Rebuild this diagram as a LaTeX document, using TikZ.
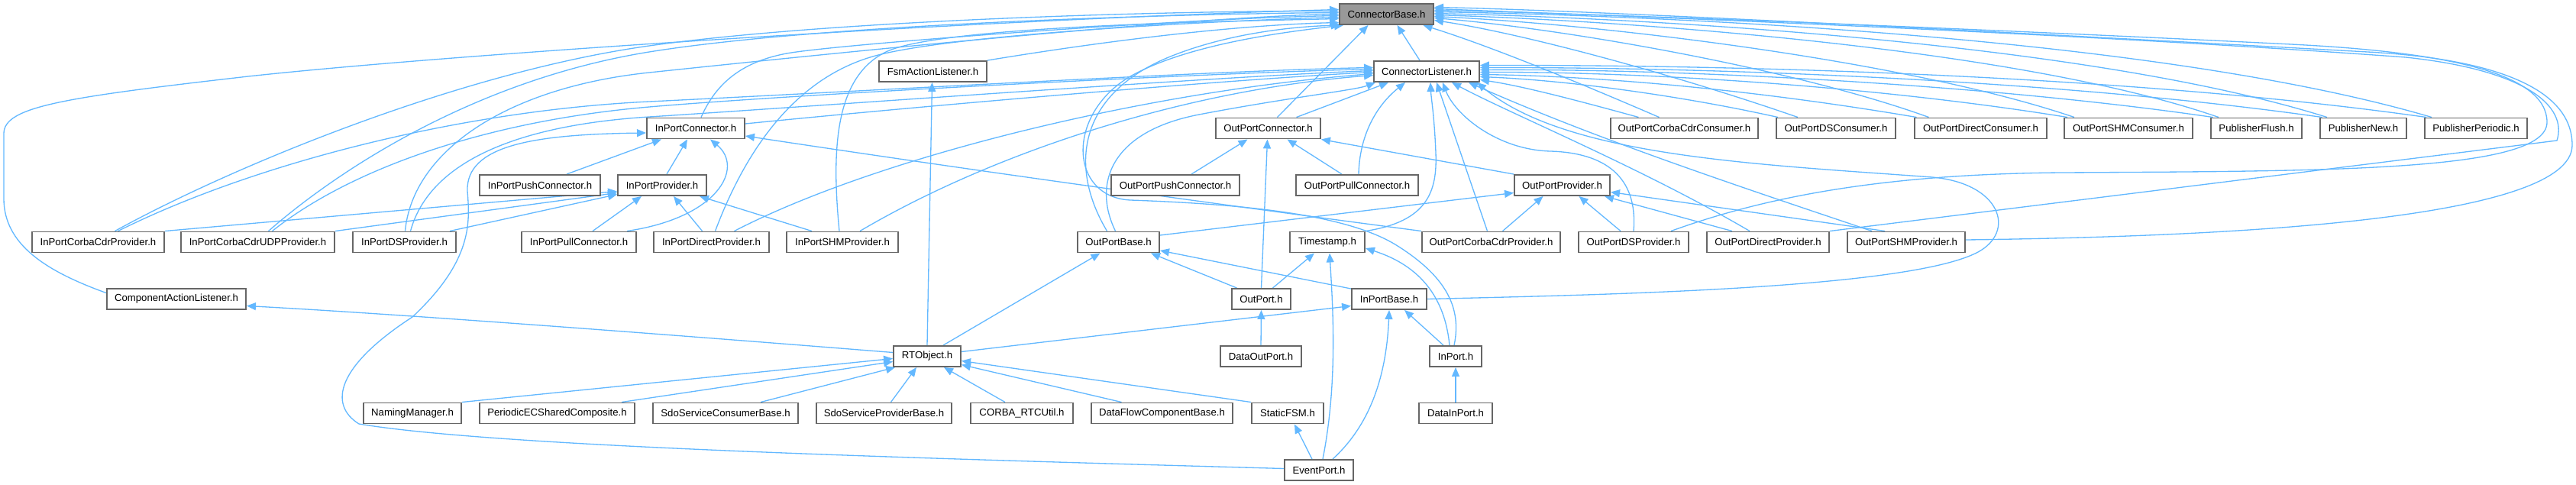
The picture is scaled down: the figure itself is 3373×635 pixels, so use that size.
\documentclass[tikz,border=0pt]{standalone}
\usepackage{fontspec}
\setmainfont{Liberation Sans}
\usetikzlibrary{arrows.meta,calc}
\definecolor{boxgray}{HTML}{666666}
\definecolor{rootgray}{HTML}{999999}
\definecolor{edgeblue}{HTML}{63B8FF}
\pgfdeclarelayer{edgelayer}
\pgfsetlayers{edgelayer,main}
\newcommand\nd[6][nbox]{\pgfmathsetlengthmacro\ndw{#5*0.02cm}\node[#1, minimum width=\ndw] (#2) at (#3,#4) {#6};}
\tikzset{
  nbox/.style={draw=boxgray,fill=white,line width=1.1pt,minimum height=0.54cm,inner sep=0pt,font=\fontsize{7.5pt}{9pt}\selectfont},
  rootbox/.style={nbox,fill=rootgray},
  dep/.style={draw=edgeblue,line width=0.75pt,-{Triangle[length=0.24cm,width=0.2cm]}}
}
\begin{document}
\begin{tikzpicture}[x=0.02cm,y=-0.02cm]
\useasboundingbox (0,0) rectangle (3373,635);
% row 0
\nd[rootbox]{cb}{1815.5}{18.5}{123}{ConnectorBase.h}
% row 1
\nd{fal}{1221.5}{93.5}{141}{FsmActionListener.h}
\nd{cl}{1868}{93.5}{138}{ConnectorListener.h}
% row 2
\nd{ipc}{911}{168}{128}{InPortConnector.h}
\nd{opc}{1660.5}{168}{137}{OutPortConnector.h}
\nd{occ}{2205.5}{168}{193}{OutPortCorbaCdrConsumer.h}
\nd{odsc}{2404}{168}{156}{OutPortDSConsumer.h}
\nd{odc}{2593.5}{168}{173}{OutPortDirectConsumer.h}
\nd{oshmc}{2787}{168}{168}{OutPortSHMConsumer.h}
\nd{pf}{2954.5}{168}{119}{PublisherFlush.h}
\nd{pn}{3094.5}{168}{113}{PublisherNew.h}
\nd{pp}{3242}{168}{134}{PublisherPeriodic.h}
% row 3
\nd{ippush}{707}{242.5}{158}{InPortPushConnector.h}
\nd{ipp}{867}{242.5}{116}{InPortProvider.h}
\nd{oppush}{1539}{242.5}{168}{OutPortPushConnector.h}
\nd{oppull}{1777}{242.5}{160}{OutPortPullConnector.h}
\nd{opp}{2045.5}{242.5}{125}{OutPortProvider.h}
% row 4
\nd{ipccp}{128.5}{317}{173}{InPortCorbaCdrProvider.h}
\nd{ipudp}{337.5}{317}{201}{InPortCorbaCdrUDPProvider.h}
\nd{ipds}{529.5}{317}{135}{InPortDSProvider.h}
\nd{ippull}{758}{317}{150}{InPortPullConnector.h}
\nd{ipdir}{931.5}{317}{151}{InPortDirectProvider.h}
\nd{ipshm}{1103}{317}{146}{InPortSHMProvider.h}
\nd{opb}{1464.5}{317}{107}{OutPortBase.h}
\nd{ts}{1738}{317}{98}{Timestamp.h}
\nd{opccp}{1952.5}{317}{181}{OutPortCorbaCdrProvider.h}
\nd{opds}{2139}{317}{144}{OutPortDSProvider.h}
\nd{opdir}{2315}{317}{160}{OutPortDirectProvider.h}
\nd{opshm}{2496}{317}{154}{OutPortSHMProvider.h}
% row 5
\nd{cal}{231}{391.5}{182}{ComponentActionListener.h}
\nd{op}{1651.5}{391.5}{77}{OutPort.h}
\nd{ipb}{1819}{391.5}{98}{InPortBase.h}
% row 6
\nd{rto}{1214}{466.5}{88}{RTObject.h}
\nd{dop}{1651}{466.5}{106}{DataOutPort.h}
\nd{inp}{1906}{466.5}{68}{InPort.h}
% row 7
\nd{nm}{540}{541}{128}{NamingManager.h}
\nd{pec}{729.5}{541}{203}{PeriodicECSharedComposite.h}
\nd{sdoc}{950}{541}{190}{SdoServiceConsumerBase.h}
\nd{sdop}{1157.5}{541}{177}{SdoServiceProviderBase.h}
\nd{crtc}{1338}{541}{134}{CORBA\_RTCUtil.h}
\nd{dfc}{1521.5}{541}{185}{DataFlowComponentBase.h}
\nd{sfsm}{1686}{541}{94}{StaticFSM.h}
\nd{dip}{1906}{541}{96}{DataInPort.h}
% row 8
\nd{ep}{1727}{615.5}{90}{EventPort.h}

\begin{pgfonlayer}{edgelayer}
% ---- into ConnectorBase
\draw[dep] ($(cl.north)+(-9,0)$) -- ($(cb.south)+(14,0)$);
\draw[dep] (fal.north east) .. controls (1500,45) and (1650,32) .. ($(cb.west)+(0,11)$);
\draw[dep] ($(cal.west)+(0,-8)$) .. controls (60,355) and (5,320) .. (5,260) -- (5,175) .. controls (5,140) and (80,128) .. (325,100) .. controls (600,70) and (1300,25) .. ($(cb.west)+(0,-6)$);
\draw[dep] ($(ipccp.north)+(22,0)$) .. controls (300,220) and (600,95) .. (850,60) .. controls (1100,25) and (1550,14) .. ($(cb.west)+(0,-4)$);
\draw[dep] ($(ipudp.north)+(14,0)$) .. controls (440,225) and (620,105) .. (850,68) .. controls (1080,31) and (1550,18) .. ($(cb.west)+(0,-2)$);
\draw[dep] ($(ipds.north)+(1,0)$) .. controls (540,200) and (660,115) .. (850,95) .. controls (1040,75) and (1550,22) .. ($(cb.west)+(0,0)$);
\draw[dep] ($(ipc.north)+(7,0)$) .. controls (935,115) and (965,82) .. (1030,70) .. controls (1095,58) and (1550,24) .. ($(cb.west)+(0,2)$);
\draw[dep] ($(ipdir.north)+(5,0)$) .. controls (975,200) and (1040,100) .. (1150,72) .. controls (1260,44) and (1600,27) .. ($(cb.west)+(0,4)$);
\draw[dep] ($(ipshm.north)+(-4,0)$) .. controls (1088,190) and (1095,100) .. (1160,68) .. controls (1230,34) and (1600,28) .. ($(cb.west)+(0,6)$);
\draw[dep] ($(opb.north)+(-15,0)$) .. controls (1400,220) and (1410,125) .. (1530,75) .. controls (1620,38) and (1720,34) .. ($(cb.south west)+(2,0)$);
\draw[dep] ($(inp.north)+(-2,0)$) .. controls (1915,400) and (1890,360) .. (1830,322) .. controls (1770,284) and (1650,268) .. (1480,262) .. controls (1400,258) and (1395,150) .. (1480,100) .. controls (1560,55) and (1700,40) .. ($(cb.south west)+(6,0)$);
\draw[dep] ($(opc.north)+(12,0)$) -- ($(cb.south)+(-24,0)$);
\draw[dep] ($(occ.north)+(-33,0)$) .. controls (2060,105) and (1950,60) .. ($(cb.south)+(48,0)$);
\draw[dep] ($(odsc.north)+(-50,0)$) .. controls (2200,100) and (2000,45) .. ($(cb.east)+(0,8)$);
\draw[dep] ($(odc.north)+(-68,0)$) .. controls (2350,90) and (2050,38) .. ($(cb.east)+(0,5)$);
\draw[dep] ($(oshmc.north)+(-71,0)$) .. controls (2500,80) and (2100,32) .. ($(cb.east)+(0,3)$);
\draw[dep] ($(pf.north)+(-49.5,0)$) .. controls (2650,65) and (2150,28) .. ($(cb.east)+(0,1)$);
\draw[dep] ($(pn.north)+(-47.5,0)$) .. controls (2750,60) and (2200,25) .. ($(cb.east)+(0,-1)$);
\draw[dep] ($(pp.north)+(-58,0)$) .. controls (2850,55) and (2250,22) .. ($(cb.east)+(0,-3)$);
\draw[dep] ($(opds.north east)+(-24,0)$) .. controls (2300,262) and (2450,228) .. (2700,226) .. controls (3050,224) and (3335,225) .. (3335,160) .. controls (3335,95) and (3200,68) .. (3000,58) .. controls (2600,38) and (2100,18) .. ($(cb.east)+(0,-5)$);
\draw[dep] (opdir.north east) -- (3348,184) .. controls (3362,140) and (3310,92) .. (3150,75) .. controls (2700,42) and (2100,20) .. ($(cb.east)+(0,-7)$);
\draw[dep] ($(opshm.east)+(0,-3)$) .. controls (2900,310) and (3368,290) .. (3368,190) .. controls (3368,110) and (3250,76) .. (3100,68) .. controls (2700,46) and (2100,14) .. ($(cb.east)+(0,-9)$);
% ---- into ConnectorListener
\draw[dep] ($(ipccp.north)+(26,0)$) .. controls (330,215) and (600,145) .. (850,133) .. controls (1100,121) and (1600,92) .. ($(cl.west)+(0,-5)$);
\draw[dep] ($(ipudp.north)+(19,0)$) .. controls (460,220) and (640,158) .. (850,140) .. controls (1060,122) and (1600,95) .. ($(cl.west)+(0,-3)$);
\draw[dep] ($(ipds.north)+(8,0)$) .. controls (560,220) and (660,165) .. (850,153) .. controls (1040,141) and (1600,100) .. ($(cl.west)+(0,-1)$);
\draw[dep] ($(ipc.east)+(0,-6)$) .. controls (1300,130) and (1650,102) .. ($(cl.west)+(0,1)$);
\draw[dep] ($(ipdir.north)+(30,0)$) .. controls (1150,205) and (1500,120) .. ($(cl.west)+(0,3)$);
\draw[dep] ($(ipshm.north)+(23,0)$) .. controls (1300,200) and (1550,118) .. ($(cl.west)+(0,5)$);
\draw[dep] ($(opb.north)+(-4,0)$) .. controls (1430,240) and (1455,172) .. (1570,150) .. controls (1685,128) and (1775,118) .. ($(cl.south west)+(3,0)$);
\draw[dep] ($(opc.north)+(37,0)$) -- ($(cl.south west)+(20,0)$);
\draw[dep] ($(oppull.north)+(2,0)$) .. controls (1780,180) and (1800,140) .. ($(cl.south)+(-28,0)$);
\draw[dep] (ts.north east) .. controls (1870,290) and (1882,250) .. (1880,200) .. controls (1878,150) and (1874,130) .. ($(cl.south)+(5,0)$);
\draw[dep] ($(opccp.north)+(-5,0)$) -- ($(cl.south)+(13,0)$);
\draw[dep] (opds.north) .. controls (2145,230) and (2100,200) .. (2030,198) .. controls (1960,196) and (1905,150) .. ($(cl.south)+(21,0)$);
\draw[dep] ($(opdir.north)+(-24,0)$) .. controls (2150,220) and (1980,150) .. ($(cl.south)+(33,0)$);
\draw[dep] ($(opshm.north)+(-45,0)$) .. controls (2280,245) and (2090,182) .. ($(cl.south east)+(-15,0)$);
\draw[dep] (ipb.east) .. controls (2100,386) and (2500,378) .. (2590,330) .. controls (2640,303) and (2620,240) .. (2530,232) .. controls (2300,215) and (2050,205) .. ($(cl.south east)+(-4,0)$);
\draw[dep] ($(occ.north)+(-60,0)$) .. controls (2060,130) and (1990,112) .. ($(cl.east)+(0,11)$);
\draw[dep] ($(odsc.north)+(-76,0)$) .. controls (2200,125) and (2050,105) .. ($(cl.east)+(0,7)$);
\draw[dep] ($(odc.north)+(-84,0)$) .. controls (2300,118) and (2100,100) .. ($(cl.east)+(0,4)$);
\draw[dep] ($(oshmc.north)+(-80,0)$) .. controls (2450,112) and (2150,94) .. ($(cl.east)+(0,1)$);
\draw[dep] ($(pf.north)+(-57,0)$) .. controls (2600,110) and (2200,90) .. ($(cl.east)+(0,-2)$);
\draw[dep] ($(pn.north)+(-54,0)$) .. controls (2700,105) and (2250,88) .. ($(cl.east)+(0,-5)$);
\draw[dep] ($(pp.north)+(-65,0)$) .. controls (2800,100) and (2300,85) .. ($(cl.east)+(0,-8)$);
% ---- OutPortConnector
\draw[dep] (opp.north west) -- (opc.south east);
\draw[dep] ($(oppush.north)+(21,0)$) -- ($(opc.south)+(-27,0)$);
\draw[dep] ($(oppull.north)+(-20,0)$) -- ($(opc.south)+(25,0)$);
\draw[dep] (op.north) -- ($(opc.south)+(-1,0)$);
% ---- OutPortProvider
\draw[dep] ($(opccp.north)+(15,0)$) -- ($(opp.south)+(-25,0)$);
\draw[dep] ($(opds.north)+(-17,0)$) -- ($(opp.south)+(22,0)$);
\draw[dep] ($(opdir.north)+(-47,0)$) -- ($(opp.south east)+(-8,0)$);
\draw[dep] ($(opshm.north)+(-28,0)$) -- ($(opp.east)+(0,9)$);
\draw[dep] ($(opb.east)+(0,-9)$) -- ($(opp.west)+(0,10)$);
% ---- InPortConnector
\draw[dep] ($(ippush.north)+(35,0)$) -- ($(ipc.south)+(-45,0)$);
\draw[dep] ($(ipp.north)+(6,0)$) -- ($(ipc.south)+(-11,0)$);
\draw[dep] ($(ippull.north east)+(-13,0)$) .. controls (940,285) and (975,220) .. ($(ipc.south)+(19,0)$);
\draw[dep] ($(ep.west)+(0,-2)$) .. controls (1200,600) and (650,585) .. (470,555) .. controls (430,530) and (440,480) .. (540,415) .. controls (620,340) and (615,290) .. (612,250) .. controls (610,190) and (700,176) .. ($(ipc.west)+(0,6)$);
\draw[dep] (opccp.north west) .. controls (1500,255) and (1200,212) .. ($(ipc.east)+(0,10)$);
% ---- InPortProvider
\draw[dep] (ipccp.north east) -- ($(ipp.west)+(0,8)$);
\draw[dep] (ipudp.north east) -- ($(ipp.west)+(0,10)$);
\draw[dep] ($(ipds.north east)+(-9,0)$) -- ($(ipp.west)+(0,12)$);
\draw[dep] ($(ippull.north)+(18,0)$) -- ($(ipp.south)+(-27,0)$);
\draw[dep] ($(ipdir.north)+(-12,0)$) -- ($(ipp.south)+(15,0)$);
\draw[dep] ($(ipshm.north)+(-40,0)$) -- ($(ipp.south east)+(-10,0)$);
% ---- Timestamp
\draw[dep] ($(op.north)+(15,0)$) -- ($(ts.south)+(-17,0)$);
\draw[dep] ($(ep.north)+(5,0)$) .. controls (1752,500) and (1745,400) .. ($(ts.south)+(3,0)$);
\draw[dep] ($(inp.north)+(-8,0)$) .. controls (1892,390) and (1860,348) .. ($(ts.east)+(0,8)$);
% ---- OutPortBase
\draw[dep] ($(op.north)+(-32,0)$) -- ($(opb.south east)+(-12,0)$);
\draw[dep] ($(rto.north)+(21,0)$) -- ($(opb.south)+(-24,0)$);
\draw[dep] ($(ipb.north west)+(0,1)$) -- ($(opb.east)+(0,11)$);
% ---- InPortBase
\draw[dep] ($(rto.east)+(0,-6)$) -- ($(ipb.west)+(0,9)$);
\draw[dep] ($(inp.north)+(-16,0)$) -- ($(ipb.south)+(20,0)$);
\draw[dep] ($(ep.north)+(18,0)$) .. controls (1790,560) and (1815,500) .. (ipb.south);
% ---- RTObject
\draw[dep] (rto.north) -- ($(fal.south)+(-1,0)$);
\draw[dep] ($(rto.west)+(0,-5)$) .. controls (800,432) and (500,410) .. ($(cal.east)+(0,9)$);
\draw[dep] (nm.north east) -- ($(rto.west)+(0,3)$);
\draw[dep] ($(pec.north east)+(-18,0)$) -- ($(rto.west)+(0,7)$);
\draw[dep] ($(sdoc.north)+(46,0)$) -- ($(rto.south west)+(3,0)$);
\draw[dep] ($(sdop.north)+(9,0)$) -- ($(rto.south)+(-14,0)$);
\draw[dep] ($(crtc.north)+(-22,0)$) -- ($(rto.south)+(22,0)$);
\draw[dep] ($(dfc.north)+(-53,0)$) -- ($(rto.east)+(0,11)$);
\draw[dep] (sfsm.north west) -- ($(rto.east)+(0,6)$);
% ---- others
\draw[dep] (dop.north) -- (op.south);
\draw[dep] (dip.north) -- (inp.south);
\draw[dep] ($(ep.north)+(-9,0)$) -- ($(sfsm.south)+(9,0)$);
\end{pgfonlayer}
\end{tikzpicture}
\end{document}
